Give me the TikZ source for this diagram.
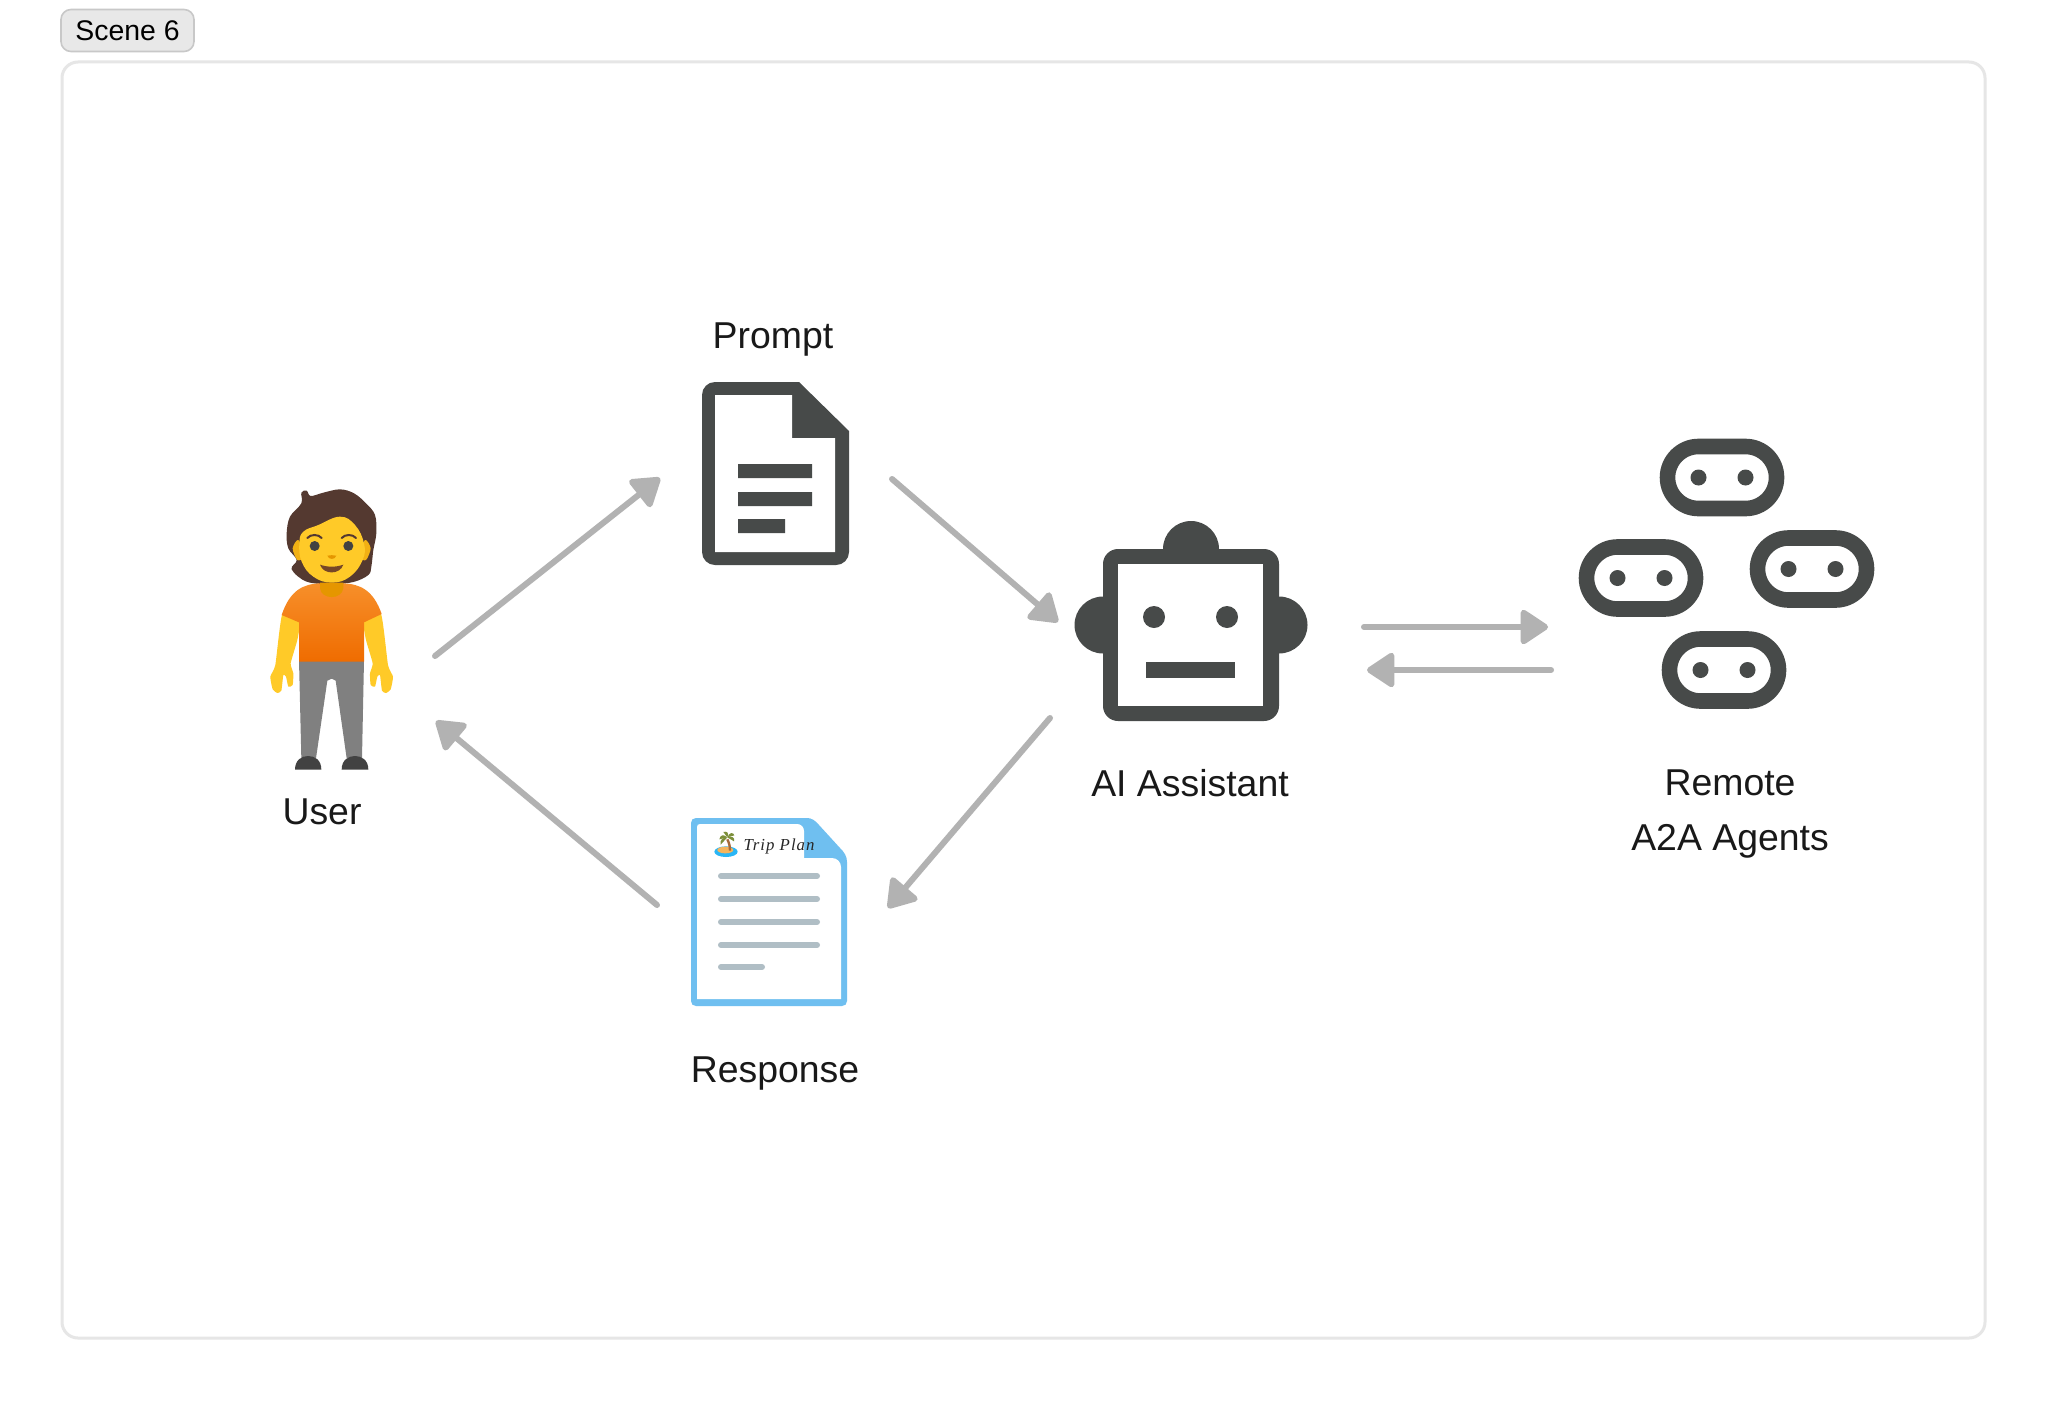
\documentclass[tikz,border=0pt]{standalone}
\usepackage{fontspec}
\setmainfont{Liberation Sans}
\newfontfamily\handfont[LetterSpace=6]{Liberation Serif}
\usetikzlibrary{arrows.meta}
\definecolor{icondark}{HTML}{474A49}
\definecolor{arrowgrey}{HTML}{B2B2B2}
\definecolor{framegrey}{HTML}{E6E6E6}
\definecolor{badgefill}{HTML}{E8E8E8}
\definecolor{badgeedge}{HTML}{C8C8C8}
\definecolor{docblue}{HTML}{6FBFF0}
\definecolor{docline}{HTML}{B0BEC5}
\definecolor{hairbrown}{HTML}{543930}
\definecolor{skin}{HTML}{FFCA28}
\definecolor{skindark}{HTML}{E59600}
\definecolor{trousers}{HTML}{808080}
\definecolor{shoes}{HTML}{424242}
\definecolor{shirttop}{HTML}{F78F2A}
\definecolor{shirtmid}{HTML}{F78A1F}
\definecolor{shirtlow}{HTML}{EF6C00}
\definecolor{islandsea}{HTML}{29B6F6}
\definecolor{islandsand}{HTML}{F5B55C}
\definecolor{palmleaf}{HTML}{7C8F3A}
\definecolor{palmtrunk}{HTML}{A56A3A}
\tikzset{
  flow/.style={draw=arrowgrey,line width=3pt,line cap=round,
    -{Triangle[length=15pt,width=19pt,round]}},
  label/.style={inner sep=0pt,font=\fontsize{18.7}{27.5}\selectfont,text=black!90},
  agentpill/.pic={
    \draw[icondark,line width=7.8pt,rounded corners=15.5pt] (-54.5,-31) rectangle (54.5,31);
    \fill[icondark] (-23.5,0) circle[radius=8] (23.5,0) circle[radius=8];
  },
  docrule/.style={draw=docline,line width=3pt,line cap=round},
}
\begin{document}
\begin{tikzpicture}[x=0.5pt,y=-0.5pt]
\useasboundingbox (0,0) rectangle (2048,1402);
\fill[white] (0,0) rectangle (2048,1402);
% frame and badge
\draw[framegrey,line width=1.5pt,rounded corners=8pt] (62,62) rectangle (1985,1338);
\node[draw=badgeedge,fill=badgefill,line width=0.8pt,rounded corners=5pt,minimum width=66.5pt,minimum height=21pt,inner sep=0pt,font=\fontsize{14.2}{16}\selectfont,text=black] (badge) at (127.5,30.5) {\raisebox{-1pt}{Scene 6}};
% person
\begin{scope}[shift={(240,460)},scale=1/3]
  \fill[hairbrown] plot[smooth cycle,tension=0.6] coordinates {(184,98)(200,92)(212,108)(250,98)(300,88)(342,100)(378,130)(405,165)(409,220)(400,270)(394,320)(385,345)(340,366)(275,372)(200,365)(155,328)(170,300)(145,265)(140,220)(150,170)(184,130)};
  \fill[skindark!50!skin] plot[smooth cycle] coordinates {(175,240)(158,265)(172,300)(190,290)};
  \fill[skindark!50!skin] plot[smooth cycle] coordinates {(375,240)(392,265)(378,300)(360,290)};
  \fill[skin] plot[smooth cycle,tension=0.7] coordinates {(178,250)(190,215)(235,195)(300,170)(345,195)(372,250)(368,300)(330,350)(275,368)(220,350)(185,305)};
  \fill[trousers] (177,600) -- (372,600) -- (366,895) -- (320,895) -- (287,662) -- (275,656) -- (262,662) -- (228,895) -- (184,895) -- cycle;
  \fill[skin] plot[smooth cycle,tension=0.3] coordinates {(127,462)(178,487)(172,540)(152,610)(160,640)(158,675)(145,680)(138,650)(130,645)(124,692)(112,699)(98,688)(91,650)(106,615)};
  \fill[skin] plot[smooth cycle,tension=0.3] coordinates {(423,462)(372,487)(378,540)(398,610)(390,640)(392,675)(405,680)(412,650)(420,645)(426,692)(438,699)(452,688)(459,650)(444,615)};
  \shade[top color=shirttop,middle color=shirtmid,bottom color=shirtlow] (240,370) .. controls (190,372) and (150,390) .. (125,465) -- (177,487) -- (177,605) -- (372,605) -- (372,487) -- (425,462) .. controls (400,390) and (360,372) .. (310,370) -- cycle;
  \fill[skindark] (240,368) -- (310,368) -- (310,385) .. controls (305,420) and (245,420) .. (240,385) -- cycle;
  \fill[shoes] (165,929) .. controls (165,900) and (185,888) .. (204,888) .. controls (225,888) and (244,900) .. (244,929) -- cycle;
  \fill[shoes] (305,929) .. controls (305,900) and (325,888) .. (345,888) .. controls (365,888) and (385,900) .. (385,929) -- cycle;
  \fill[shoes] (224,258) circle[radius=15] (325,258) circle[radius=15];
  \draw[hairbrown,line width=1pt,line cap=round] (202,234) .. controls (212,222) and (235,222) .. (245,234);
  \draw[hairbrown,line width=1pt,line cap=round] (305,234) .. controls (315,222) and (338,222) .. (348,234);
  \fill[skindark] (262,287) .. controls (270,285) and (280,285) .. (289,287) .. controls (285,300) and (266,300) .. (262,287) -- cycle;
  \fill[hairbrown!80!orange] (240,314) .. controls (262,322) and (288,322) .. (310,314) .. controls (300,345) and (250,345) .. (240,314) -- cycle;
\end{scope}
% prompt document
\fill[icondark] (799,382) -- (715,382) .. controls (707.8,382) and (702,387.8) .. (702,395) -- (702,552) .. controls (702,559.2) and (707.8,565) .. (715,565) -- (836,565) .. controls (843.2,565) and (849,559.2) .. (849,552) -- (849,431) -- cycle;
\fill[white] (715,395) -- (792,395) -- (792,438) -- (835,438) -- (835,552) -- (715,552) -- cycle;
\fill[icondark] (738,464) rectangle (812,478) (738,492) rectangle (812,506) (738,519) rectangle (785,533);
% response document
\fill[docblue] (807,818) -- (696,818) .. controls (693,818) and (691,820) .. (691,823) -- (691,1001) .. controls (691,1004) and (693,1006) .. (696,1006) -- (842,1006) .. controls (845,1006) and (847,1004) .. (847,1001) -- (847,862) .. controls (847,856) and (844,852) .. (840,848) -- (819,825) .. controls (815,820) and (811,818) .. (807,818) -- cycle;
\fill[white] (700,824) -- (797,824) .. controls (801,824) and (804,827) .. (804,831) -- (804,858) -- (832,858) .. controls (837,858) and (841,862) .. (841,867) -- (841,999) -- (697,999) -- (697,827) .. controls (697,825) and (698,824) .. (700,824) -- cycle;
\draw[docrule] (721,876) -- (817,876);
\draw[docrule] (721,899) -- (817,899);
\draw[docrule] (721,922) -- (817,922);
\draw[docrule] (721,945) -- (817,945);
\draw[docrule] (721,967) -- (762,967);
% island emoji
\begin{scope}[shift={(670,800)},scale=1/3]
  \fill[islandsea] (168,155) ellipse[x radius=35,y radius=16];
  \fill[islandsand] (166,150) ellipse[x radius=24,y radius=10];
  \draw[palmtrunk,line width=1.2pt] (172,118) .. controls (178,130) and (180,140) .. (180,152);
  \fill[palmleaf] (172,112) -- (148,118) .. controls (150,104) and (162,102) .. (172,112) -- cycle;
  \fill[palmleaf] (172,112) -- (160,96) .. controls (172,92) and (178,100) .. (172,112) -- cycle;
  \fill[palmleaf] (172,112) -- (193,106) .. controls (190,96) and (178,96) .. (172,112) -- cycle;
  \fill[palmleaf] (172,112) -- (192,124) .. controls (196,114) and (186,106) .. (172,112) -- cycle;
  \fill[palmleaf] (172,112) -- (152,134) .. controls (148,120) and (160,110) .. (172,112) -- cycle;
\end{scope}
\node[inner sep=0pt,font=\handfont\itshape\fontsize{8.4}{10}\selectfont,text=black!85] (tripplan) at (779,846) {Trip Plan};
% robot
\fill[icondark] (1191,549) circle[radius=28] (1103,625) circle[radius=28.5] (1279,625) circle[radius=28.5];
\fill[icondark,rounded corners=7.5pt] (1103,549) rectangle (1279,721);
\fill[white] (1118,564) rectangle (1263,706);
\fill[icondark] (1154,617) circle[radius=11] (1227,617) circle[radius=11];
\fill[icondark] (1146,662) rectangle (1235,678);
% agents
\pic at (1722,477.5) {agentpill};
\pic at (1641,578) {agentpill};
\pic at (1812,569) {agentpill};
\pic at (1724,670) {agentpill};
% labels
\node[label] (userlabel) at (322,812) {User};
\node[label] (promptlabel) at (773,340) {Prompt};
\node[label] (responselabel) at (775,1073) {Response};
\node[label] (assistantlabel) at (1190,783) {AI Assistant};
\node[label,align=center,anchor=north] (agentslabel) at (1730,769) {Remote\\A2A Agents};
% connector ends
\coordinate (userout) at (435,656);
\coordinate (promptin) at (660,478);
\coordinate (promptout) at (892,479);
\coordinate (assistantin) at (1058,622);
\coordinate (assistantout) at (1050,718);
\coordinate (responsein) at (888,908);
\coordinate (responseout) at (657,905);
\coordinate (userin) at (436,721);
\coordinate (toagentsstart) at (1364,627);
\coordinate (toagentsend) at (1548,627);
\coordinate (fromagentsstart) at (1551,670);
\coordinate (fromagentsend) at (1367,670);
\draw[flow] (userout) -- (promptin);
\draw[flow] (promptout) -- (assistantin);
\draw[flow] (assistantout) -- (responsein);
\draw[flow] (responseout) -- (userin);
\draw[flow] (toagentsstart) -- (toagentsend);
\draw[flow] (fromagentsstart) -- (fromagentsend);
\end{tikzpicture}
\end{document}
